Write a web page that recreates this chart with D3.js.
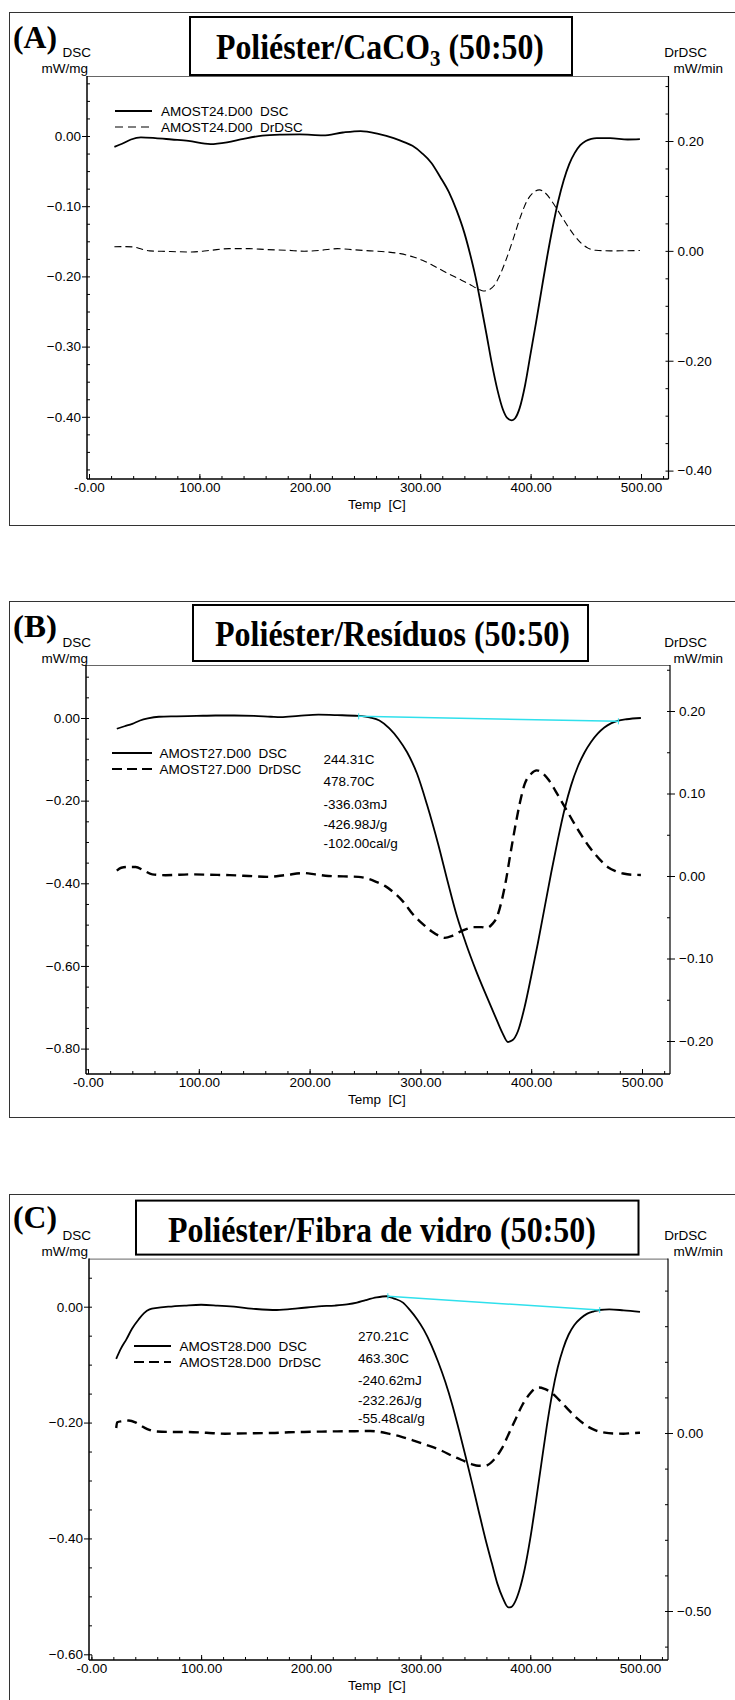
<!DOCTYPE html>
<html>
<head>
<meta charset="utf-8">
<script src="https://cdnjs.cloudflare.com/ajax/libs/d3/7.8.5/d3.min.js"></script>
<style>
  body { margin: 0; background: #fff; }
  svg { display: block; }
  text { font-family: "Liberation Sans", Arial, sans-serif; fill: #000; }
</style>
</head>
<body>
<div id="chart"></div>
<script>
// ---- data: [temperature C, value] ----
var dscA = [[23,-0.0155],[30,-0.011],[38,-0.005],[47,-0.002],[60,-0.003],[75,-0.005],[90,-0.007],[110,-0.0115],[125,-0.009],[140,-0.004],[157,0.0005],[175,0.002],[191,0.0024],[212,0.001],[230,0.005],[246,0.007],[262,0.003],[276,-0.003],[286,-0.009],[293,-0.014],[302,-0.025],[310,-0.038],[318,-0.058],[326,-0.08],[333,-0.106],[340,-0.138],[345,-0.167],[350,-0.2],[355,-0.24],[360,-0.282],[365,-0.325],[370,-0.362],[375,-0.39],[379,-0.402],[383,-0.405],[386,-0.402],[390,-0.388],[395,-0.355],[400,-0.31],[405,-0.265],[410,-0.218],[415,-0.172],[420,-0.13],[425,-0.093],[430,-0.063],[435,-0.04],[440,-0.024],[445,-0.013],[450,-0.007],[455,-0.004],[460,-0.003],[472,-0.003],[488,-0.005],[499,-0.0045]];
var drA = [[23,0.0074],[32,0.0078],[40,0.0072],[48,0.003],[55,0],[70,-0.001],[93,-0.002],[110,0.001],[127,0.004],[145,0.004],[160,0.0025],[180,0.001],[195,-0.0006],[210,0.001],[225,0.004],[240,0.002],[255,0],[270,-0.002],[282,-0.005],[292,-0.01],[302,-0.017],[312,-0.027],[323,-0.039],[334,-0.05],[344,-0.06],[352,-0.069],[357,-0.073],[362,-0.071],[367,-0.063],[372,-0.045],[378,-0.015],[384,0.02],[391,0.063],[397,0.092],[403,0.107],[408,0.111],[413,0.106],[420,0.088],[427,0.066],[433,0.047],[440,0.027],[446,0.0136],[452,0.005],[459,0.001],[472,0],[486,0.0002],[499,0.0006]];

var dscB = [[26,-0.026],[33,-0.02],[40,-0.014],[47,-0.006],[54,-0.001],[64,0.003],[80,0.004],[98,0.005],[115,0.006],[132,0.006],[150,0.005],[165,0.003],[174,0.002],[190,0.005],[208,0.008],[225,0.007],[244,0.005],[255,0.001],[263,-0.006],[272,-0.025],[280,-0.05],[288,-0.083],[297,-0.135],[306,-0.21],[316,-0.305],[325,-0.4],[333,-0.48],[341,-0.545],[350,-0.61],[360,-0.675],[368,-0.725],[374,-0.762],[379,-0.784],[383,-0.78],[388,-0.758],[394,-0.7],[400,-0.625],[406,-0.545],[412,-0.46],[418,-0.375],[424,-0.295],[430,-0.222],[436,-0.163],[442,-0.118],[448,-0.084],[454,-0.058],[460,-0.038],[466,-0.023],[472,-0.013],[478,-0.007],[486,-0.003],[499,0]];
var drB = [[26,0.0065],[30,0.01],[36,0.011],[43,0.011],[50,0.007],[58,0.002],[70,0.001],[94,0.002],[110,0.0015],[128,0.001],[145,0],[162,-0.001],[178,0.001],[195,0.0035],[205,0.002],[217,0],[244,-0.001],[252,-0.003],[260,-0.007],[268,-0.012],[276,-0.02],[285,-0.032],[293,-0.046],[302,-0.058],[310,-0.067],[316,-0.072],[322,-0.075],[328,-0.073],[335,-0.068],[342,-0.064],[348,-0.062],[355,-0.062],[360,-0.063],[365,-0.058],[369,-0.05],[373,-0.032],[377,-0.007],[381,0.025],[386,0.063],[390,0.09],[394,0.111],[400,0.124],[405,0.128],[410,0.125],[416,0.116],[422,0.103],[428,0.089],[434,0.075],[440,0.061],[446,0.048],[452,0.036],[458,0.026],[464,0.017],[470,0.01],[476,0.006],[483,0.003],[491,0.0015],[499,0.0013]];
var baseB = [[244.31,0.004],[478.70,-0.008]];
var notesB = ["244.31C","478.70C","-336.03mJ","-426.98J/g","-102.00cal/g"];

var dscC = [[22.6,-0.09],[27,-0.072],[32,-0.056],[37,-0.038],[43,-0.022],[48,-0.011],[53,-0.0046],[60,-0.002],[70,0],[85,0.002],[100,0.0034],[115,0.002],[130,0],[150,-0.004],[169,-0.0057],[188,-0.003],[207,0.0006],[222,0.002],[233,0.004],[242,0.007],[250,0.0114],[260,0.016],[269,0.018],[276,0.014],[284,0.007],[290,-0.005],[297,-0.022],[303,-0.04],[310,-0.067],[316,-0.095],[322.6,-0.13],[329,-0.17],[335,-0.213],[341,-0.258],[347,-0.305],[353,-0.353],[359,-0.4],[365,-0.443],[370,-0.478],[375,-0.503],[380,-0.519],[383,-0.518],[386,-0.51],[390,-0.49],[395,-0.452],[400,-0.4],[405,-0.338],[410,-0.272],[415,-0.207],[420,-0.15],[425,-0.105],[430,-0.072],[435,-0.048],[440,-0.032],[446,-0.02],[452,-0.012],[458,-0.008],[463,-0.0057],[472,-0.0046],[485,-0.0063],[500,-0.009]];
var drC = [[22.6,0.014],[23.5,0.03],[28,0.033],[34,0.035],[40,0.03],[45,0.021],[51,0.011],[57.7,0.0047],[70,0.003],[87.6,0.0028],[105,0.0005],[121.8,-0.0019],[140,-0.001],[164.5,0],[180,0.002],[194,0.003],[210,0.004],[224,0.0047],[240,0.005],[254,0.0056],[263,0.003],[271,-0.0019],[282,-0.01],[293,-0.0205],[305,-0.033],[318,-0.048],[330,-0.066],[340,-0.079],[347,-0.088],[352.6,-0.092],[357,-0.092],[361,-0.09],[366,-0.078],[370,-0.063],[374,-0.044],[380,-0.005],[386.8,0.04],[393,0.08],[399.6,0.11],[404,0.124],[408,0.128],[413,0.124],[419,0.114],[426,0.094],[434,0.068],[442,0.043],[451,0.021],[459,0.008],[468,0.0009],[477,-0.0015],[485,-0.0019],[492,-0.0005],[500,0.0009]];
var baseC = [[270.21,0.018],[463.30,-0.0057]];
var notesC = ["270.21C","463.30C","-240.62mJ","-232.26J/g","-55.48cal/g"];

var xTicks = [0, 100, 200, 300, 400, 500];
var leftTicksA = [0, -0.1, -0.2, -0.3, -0.4], rightTicksA = [0.2, 0, -0.2, -0.4];
var leftTicksB = [0, -0.2, -0.4, -0.6, -0.8], rightTicksB = [0.2, 0.1, 0, -0.1, -0.2];
var leftTicksC = [0, -0.2, -0.4, -0.6], rightTicksC = [0, -0.5];

// ---- layout of the three panels ----
var panels = [
  { tag: "(A)", title: [["Poliéster/CaCO", 0], ["3", 1], [" (50:50)", 0]], file: "AMOST24.D00",
    dsc: dscA, dr: drA, base: null, notes: null,
    frameY: 12, frameH: 513, box: [190, 17, 572, 75], titleX: [216, 544], titleY: 59,
    tagY: 48, unitY: 57,
    plot: { left: 87, right: 668.5, top: 76, bottom: 479 }, x0: 89, x500: 641,
    yl: [[0, 136], [-0.4, 416.8]], yr: [[0.2, 141], [-0.4, 470.6]],
    lt: leftTicksA, lm: 0.025, rt: rightTicksA, rm: 0.05,
    legend: { x1: 115, x2: 152, tx: 161, y: 111 }, noteX: 0, noteY: [],
    drWidth: 1.1, drDash: "7,4", legDash: "8,5" },
  { tag: "(B)", title: [["Poliéster/Resíduos (50:50)", 0]], file: "AMOST27.D00",
    dsc: dscB, dr: drB, base: baseB, notes: notesB,
    frameY: 601, frameH: 516, box: [193, 605, 588, 661], titleX: [215, 570], titleY: 646,
    tagY: 637, unitY: 647,
    plot: { left: 86, right: 670, top: 665, bottom: 1074 }, x0: 88, x500: 642,
    yl: [[0, 718], [-0.8, 1048.6]], yr: [[0.2, 711], [-0.2, 1041]],
    lt: leftTicksB, lm: 0.05, rt: rightTicksB, rm: 0.05,
    legend: { x1: 112, x2: 152, tx: 159.5, y: 753 }, noteX: 323.5, noteY: [759, 781, 804, 824, 843],
    drWidth: 2.4, drDash: "10,6", legDash: "10,5" },
  { tag: "(C)", title: [["Poliéster/Fibra de vidro (50:50)", 0]], file: "AMOST28.D00",
    dsc: dscC, dr: drC, base: baseC, notes: notesC,
    frameY: 1194, frameH: 600, box: [136, 1200.6, 638.5, 1254.6], titleX: [168, 596], titleY: 1242,
    tagY: 1228, unitY: 1240,
    plot: { left: 89, right: 668, top: 1258.6, bottom: 1660 }, x0: 91.4, x500: 640,
    yl: [[0, 1306.7], [-0.6, 1654.3]], yr: [[0, 1433], [-0.5, 1611]],
    lt: leftTicksC, lm: 0.05, rt: rightTicksC, rm: 0.1,
    legend: { x1: 134, x2: 171, tx: 179.5, y: 1346 }, noteX: 358, noteY: [1336, 1358, 1380, 1400, 1418],
    drWidth: 2.4, drDash: "10,6", legDash: "10,5" }
];

var W = 735, H = 1700;
var FS = "13.5px";
var svg = d3.select("#chart").append("svg").attr("width", W).attr("height", H);

function fmt(d) { return d === 0 ? "0.00" : d3.format(".2f")(d); }

function minorRange(lo, hi, step) {
  var out = [];
  for (var i = Math.ceil(lo / step - 1e-9); i <= Math.floor(hi / step + 1e-9); i++) out.push(+(i * step).toFixed(4));
  return out;
}

function drawPanel(p) {
  var g = svg.append("g");
  var P = p.plot;

  // outer frame
  g.append("rect").attr("x", 9.5).attr("y", p.frameY + 0.5)
    .attr("width", W + 20).attr("height", p.frameH)
    .attr("fill", "none").attr("stroke", "#333").attr("stroke-width", 1);

  // title box, text squeezed horizontally like the original
  g.append("rect").attr("x", p.box[0]).attr("y", p.box[1])
    .attr("width", p.box[2] - p.box[0]).attr("height", p.box[3] - p.box[1])
    .attr("fill", "#fff").attr("stroke", "#000").attr("stroke-width", 2);
  var tg = g.append("g");
  var cx = 0;
  p.title.forEach(function(part) {
    var tx = tg.append("text").attr("x", cx).attr("y", part[1] ? 7 : 0)
      .style("font-family", "'Liberation Serif', 'Times New Roman', serif")
      .style("font-weight", "bold").style("font-size", part[1] ? "23px" : "35px")
      .style("white-space", "pre").text(part[0]);
    cx += tx.node().getComputedTextLength();
  });
  var sx = (p.titleX[1] - p.titleX[0]) / cx;
  tg.attr("transform", "translate(" + p.titleX[0] + "," + p.titleY + ") scale(" + sx + ",1)");

  // panel letter and axis units
  var tag = g.append("text").attr("x", 0).attr("y", 0)
    .style("font-family", "'Liberation Serif', 'Times New Roman', serif")
    .style("font-weight", "bold").style("font-size", "31px").text(p.tag);
  tag.attr("transform", "translate(13," + p.tagY + ") scale(" + (44 / tag.node().getComputedTextLength()) + ",1)");
  g.append("text").attr("x", 91).attr("y", p.unitY).attr("text-anchor", "end")
    .style("font-size", FS).text("DSC");
  g.append("text").attr("x", 88).attr("y", p.unitY + 16).attr("text-anchor", "end")
    .style("font-size", FS).text("mW/mg");
  g.append("text").attr("x", 707).attr("y", p.unitY).attr("text-anchor", "end")
    .style("font-size", FS).text("DrDSC");
  g.append("text").attr("x", 723).attr("y", p.unitY + 16).attr("text-anchor", "end")
    .style("font-size", FS).text("mW/min");

  // scales
  var x = d3.scaleLinear().domain([0, 500]).range([p.x0, p.x500]);
  x.domain([x.invert(P.left), x.invert(P.right)]).range([P.left, P.right]);
  var yL = d3.scaleLinear().domain([p.yl[0][0], p.yl[1][0]]).range([p.yl[0][1], p.yl[1][1]]);
  yL.domain([yL.invert(P.bottom), yL.invert(P.top)]).range([P.bottom, P.top]);
  var yR = d3.scaleLinear().domain([p.yr[0][0], p.yr[1][0]]).range([p.yr[0][1], p.yr[1][1]]);
  yR.domain([yR.invert(P.bottom), yR.invert(P.top)]).range([P.bottom, P.top]);

  // plot top border
  g.append("line").attr("x1", P.left).attr("x2", P.right).attr("y1", P.top + 0.5).attr("y2", P.top + 0.5)
    .attr("stroke", "#666").attr("stroke-width", 1);

  // x axis
  var xd = x.domain();
  g.append("g").attr("transform", "translate(0," + P.bottom + ")")
    .call(d3.axisBottom(x).tickValues(minorRange(xd[0], xd[1], 20)).tickSize(-3).tickFormat(""))
    .call(function(a) { a.select(".domain").remove(); });
  var xa = g.append("g").attr("transform", "translate(0," + P.bottom + ")")
    .call(d3.axisBottom(x).tickValues(xTicks).tickSize(-5).tickPadding(3)
      .tickFormat(function(d) { return d === 0 ? "-0.00" : d3.format(".2f")(d); }));
  xa.select(".domain").attr("d", "M" + P.left + ",0H" + P.right).attr("stroke-width", 1.5);
  xa.selectAll("text").style("font-size", FS).style("font-family", "'Liberation Sans', Arial, sans-serif");
  g.append("text").attr("x", 377).attr("y", P.bottom + 30).attr("text-anchor", "middle")
    .style("font-size", FS).style("white-space", "pre").text("Temp  [C]");

  // left axis
  var ld = yL.domain();
  g.append("g").attr("transform", "translate(" + P.left + ",0)")
    .call(d3.axisLeft(yL).tickValues(minorRange(ld[0], ld[1], p.lm)).tickSize(-3).tickFormat(""))
    .call(function(a) { a.select(".domain").remove(); });
  var la = g.append("g").attr("transform", "translate(" + P.left + ",0)")
    .call(d3.axisLeft(yL).tickValues(p.lt).tickSize(5).tickPadding(1).tickFormat(fmt));
  la.select(".domain").attr("d", "M0," + P.top + "V" + P.bottom).attr("stroke-width", 1.5);
  la.selectAll("text").style("font-size", FS).style("font-family", "'Liberation Sans', Arial, sans-serif");

  // right axis
  var rd = yR.domain();
  g.append("g").attr("transform", "translate(" + P.right + ",0)")
    .call(d3.axisRight(yR).tickValues(minorRange(rd[0], rd[1], p.rm)).tickSize(-3).tickFormat(""))
    .call(function(a) { a.select(".domain").remove(); });
  var ra = g.append("g").attr("transform", "translate(" + P.right + ",0)")
    .call(d3.axisRight(yR).tickValues(p.rt).tickSize(5).tickPadding(4).tickFormat(fmt));
  ra.select(".domain").attr("d", "M0," + P.top + "V" + P.bottom).attr("stroke-width", 1.2);
  ra.selectAll("text").style("font-size", FS).style("font-family", "'Liberation Sans', Arial, sans-serif");

  // curves
  var lineL = d3.line().curve(d3.curveMonotoneX)
    .x(function(d) { return x(d[0]); }).y(function(d) { return yL(d[1]); });
  var lineR = d3.line().curve(d3.curveMonotoneX)
    .x(function(d) { return x(d[0]); }).y(function(d) { return yR(d[1]); });

  g.append("path").datum(p.dr).attr("d", lineR).attr("fill", "none")
    .attr("stroke", "#000").attr("stroke-width", p.drWidth).attr("stroke-dasharray", p.drDash);
  g.append("path").datum(p.dsc).attr("d", lineL).attr("fill", "none")
    .attr("stroke", "#000").attr("stroke-width", 1.8);

  // integration baseline
  if (p.base) {
    g.append("path").datum(p.base).attr("d", d3.line().x(function(d) { return x(d[0]); }).y(function(d) { return yL(d[1]); }))
      .attr("stroke", "#2fe0ec").attr("stroke-width", 1.5).attr("fill", "none");
    g.selectAll(".bt").data(p.base).enter().append("line")
      .attr("x1", function(d) { return x(d[0]); }).attr("x2", function(d) { return x(d[0]); })
      .attr("y1", function(d) { return yL(d[1]) - 3; }).attr("y2", function(d) { return yL(d[1]) + 3; })
      .attr("stroke", "#2fe0ec").attr("stroke-width", 1);
  }

  // legend
  var L = p.legend;
  g.append("line").attr("x1", L.x1).attr("x2", L.x2).attr("y1", L.y).attr("y2", L.y)
    .attr("stroke", "#000").attr("stroke-width", 2);
  g.append("line").attr("x1", L.x1).attr("x2", L.x2).attr("y1", L.y + 16).attr("y2", L.y + 16)
    .attr("stroke", "#000").attr("stroke-width", p.drWidth > 2 ? 2.2 : 1.1).attr("stroke-dasharray", p.legDash);
  g.append("text").attr("x", L.tx).attr("y", L.y + 4.5).style("font-size", FS)
    .style("white-space", "pre").text(p.file + "  DSC");
  g.append("text").attr("x", L.tx).attr("y", L.y + 20.5).style("font-size", FS)
    .style("white-space", "pre").text(p.file + "  DrDSC");

  // peak annotations
  if (p.notes) {
    g.selectAll(".note").data(p.notes).enter().append("text")
      .attr("x", p.noteX).attr("y", function(d, i) { return p.noteY[i] + 4.5; })
      .style("font-size", FS).text(function(d) { return d; });
  }
}

panels.forEach(drawPanel);
</script>
</body>
</html>
